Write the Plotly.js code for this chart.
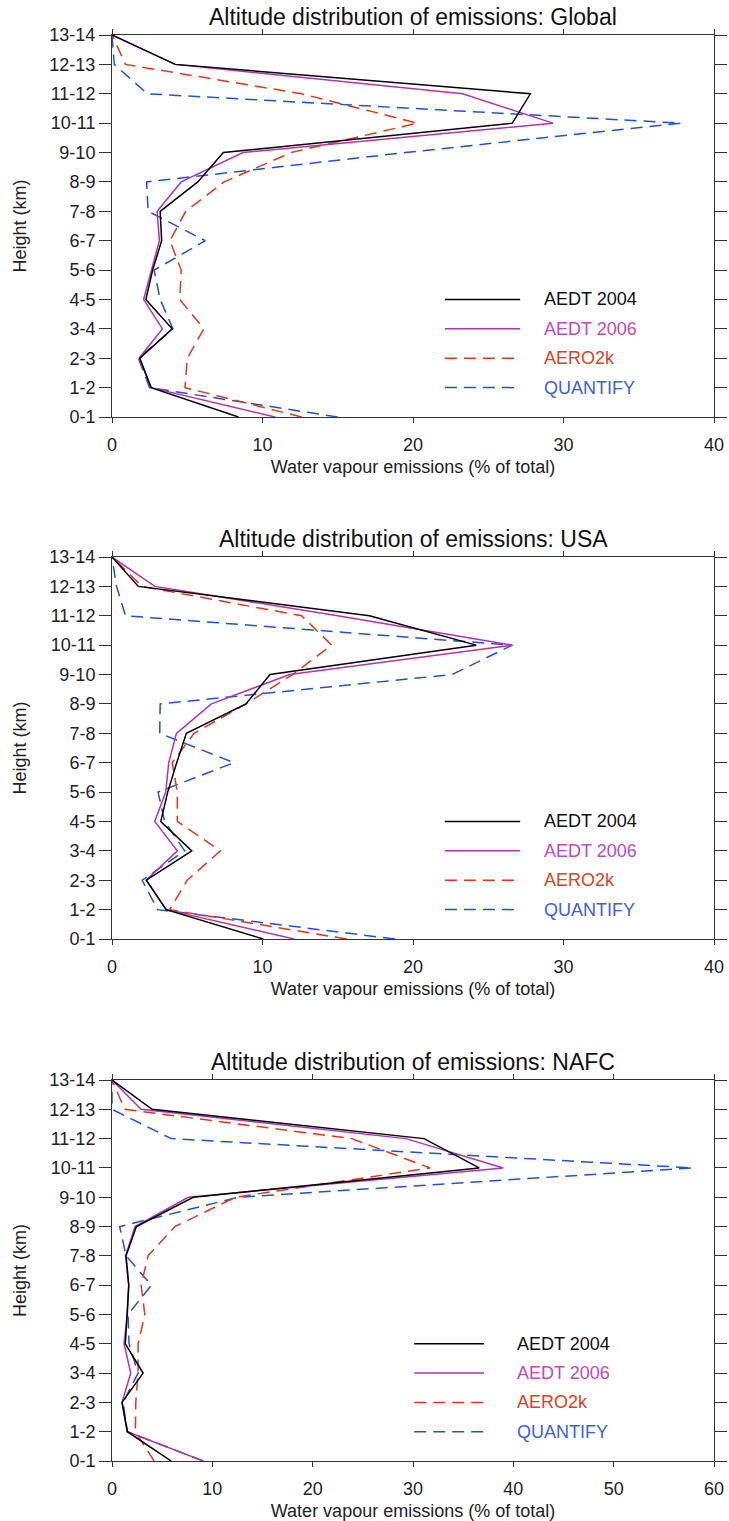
<!DOCTYPE html>
<html>
<head>
<meta charset="utf-8">
<script src="https://cdn.plot.ly/plotly-3.0.1.min.js"></script>
<style>
  html, body { margin: 0; padding: 0; background: #fff; }
  #chart { width: 729px; height: 1521px; }
</style>
</head>
<body>
<div id="chart"></div>
<script>
// Height bands (bottom to top)
const heightBands = ['0-1','1-2','2-3','3-4','4-5','5-6','6-7','7-8','8-9','9-10','10-11','11-12','12-13','13-14'];
const seriesNames = ['AEDT 2004', 'AEDT 2006', 'AERO2k', 'QUANTIFY'];
const panelTitles = ['Altitude distribution of emissions: Global', 'Altitude distribution of emissions: USA', 'Altitude distribution of emissions: NAFC'];
const xAxisTitle = 'Water vapour emissions (% of total)';
const yAxisTitle = 'Height (km)';
const xMax = [40, 40, 60];

// Global
const globalAedt2004 = [8.4, 2.6, 1.85, 4.0, 2.25, 2.7, 3.3, 3.2, 5.7, 7.4, 26.6, 27.8, 4.2, 0];
const globalAedt2006 = [10.85, 2.6, 1.8, 3.35, 2.1, 2.6, 3.15, 3.0, 4.6, 8.7, 29.3, 23.3, 4.2, 0];
const globalAero2k   = [12.6, 4.85, 5.0, 6.1, 4.5, 4.6, 3.85, 4.9, 7.45, 11.9, 20.3, 12.6, 0.9, 0];
const globalQuantify = [15.0, 2.5, 1.75, 4.05, 3.2, 2.8, 6.2, 2.4, 2.3, 19.5, 37.8, 2.35, 0.15, 0];

// USA
const usaAedt2004 = [10.05, 3.6, 2.28, 5.3, 3.24, 3.7, 4.3, 4.94, 8.9, 10.5, 24.2, 17.1, 1.75, 0];
const usaAedt2006 = [12.1, 3.6, 2.28, 4.34, 2.84, 3.57, 3.77, 4.28, 6.6, 11.8, 26.6, 15.0, 2.85, 0];
const usaAero2k   = [15.6, 3.83, 5.0, 7.2, 4.34, 4.34, 4.0, 5.45, 8.9, 12.0, 14.6, 12.6, 2.0, 0];
const usaQuantify = [18.8, 3.03, 2.0, 4.83, 3.5, 3.06, 8.1, 3.17, 3.2, 22.6, 26.6, 0.9, 0.3, 0];

// NAFC
const nafcAedt2004 = [5.9, 1.53, 1.0, 3.1, 1.33, 1.53, 1.67, 1.4, 2.43, 8.1, 36.6, 31.1, 4.0, 0];
const nafcAedt2006 = [9.1, 1.53, 1.0, 1.87, 1.2, 1.53, 1.67, 1.35, 2.3, 7.6, 39.0, 29.3, 2.9, 0];
const nafcAero2k   = [4.2, 2.33, 2.37, 2.6, 2.6, 3.27, 2.9, 3.6, 6.27, 12.3, 31.7, 23.9, 1.27, 0];
const nafcQuantify = [9.1, 1.53, 1.1, 2.6, 1.7, 1.6, 3.93, 1.4, 0.77, 12.6, 57.9, 5.9, 0, 0];

const panelData = [
  [globalAedt2004, globalAedt2006, globalAero2k, globalQuantify],
  [usaAedt2004, usaAedt2006, usaAero2k, usaQuantify],
  [nafcAedt2004, nafcAedt2006, nafcAero2k, nafcQuantify]
];

// styles
const lineColors = ['#000000', '#b033b0', '#e2361a', '#1e52d6'];
const textColors = ['#111111', '#c048bf', '#e0401f', '#3a62d8'];
const lineDash = ['solid', 'solid', '12px,7px', '12px,7px'];
const lineWidth = [1.5, 1.5, 1.5, 1.5];

const W = 729, H = 1521;
const xDom = [112 / W, 714 / W];
const yDoms = [
  [(H - 417) / H, (H - 35) / H],
  [(H - 939) / H, (H - 557) / H],
  [(H - 1461) / H, (H - 1080) / H]
];
const legendX = [[0.553, 0.678, 0.714], [0.553, 0.678, 0.714], [0.502, 0.618, 0.669]];

const font = 'Liberation Sans, Arial, Helvetica, sans-serif';
const axisColor = '#333333';
const traces = [];
const layout = {
  width: W, height: H,
  margin: {l: 0, r: 0, t: 0, b: 0},
  paper_bgcolor: '#ffffff', plot_bgcolor: '#ffffff',
  showlegend: false,
  font: {family: font, size: 18, color: '#222222'},
  shapes: [], annotations: []
};

for (let p = 0; p < 3; p++) {
  const sfx = p === 0 ? '' : String(p + 1);
  const xa = 'x' + sfx, ya = 'y' + sfx;
  // draw in reverse so AEDT 2004 ends on top
  for (let s = 3; s >= 0; s--) {
    traces.push({
      type: 'scatter', mode: 'lines',
      x: panelData[p][s], y: heightBands,
      xaxis: xa, yaxis: ya,
      name: seriesNames[s],
      line: {color: lineColors[s], width: lineWidth[s], dash: lineDash[s]},
      hoverinfo: 'skip'
    });
  }
  layout['xaxis' + sfx] = {
    domain: xDom, anchor: ya, range: [0, xMax[p]], dtick: 10, tick0: 0,
    ticks: 'outside', ticklen: 5, tickwidth: 1, tickcolor: axisColor,
    showline: true, linecolor: axisColor, linewidth: 1, mirror: 'ticks',
    showgrid: false, zeroline: false,
    tickfont: {family: font, size: 18, color: '#222'},
    ticklabelstandoff: 6,
    title: {text: xAxisTitle, font: {family: font, size: 18, color: '#222'}, standoff: 6},
    automargin: false
  };
  layout['yaxis' + sfx] = {
    domain: yDoms[p], anchor: xa, type: 'category', categoryorder: 'array', categoryarray: heightBands,
    range: [0, heightBands.length - 1],
    ticks: 'outside', ticklen: 12, tickwidth: 1, tickcolor: axisColor,
    showline: true, linecolor: axisColor, linewidth: 1, mirror: 'ticks',
    showgrid: false, zeroline: false,
    tickfont: {family: font, size: 18, color: '#222'},
    title: {text: yAxisTitle, font: {family: font, size: 18, color: '#222'}, standoff: 18},
    automargin: false
  };
  layout.annotations.push({
    text: panelTitles[p], xref: xa + ' domain', yref: ya + ' domain',
    x: 0.5, y: 1, xanchor: 'center', yanchor: 'bottom', yshift: 3, showarrow: false,
    font: {family: font, size: 23, color: '#111'}
  });
  // legend block
  for (let s = 0; s < 4; s++) {
    const yFrac = (4 - s) / (heightBands.length - 1);
    layout.shapes.push({
      type: 'line', xref: xa + ' domain', yref: ya + ' domain',
      x0: legendX[p][0], x1: legendX[p][1], y0: yFrac, y1: yFrac,
      line: {color: lineColors[s], width: lineWidth[s], dash: lineDash[s]}
    });
    layout.annotations.push({
      text: seriesNames[s], xref: xa + ' domain', yref: ya + ' domain',
      x: legendX[p][2], y: yFrac, xanchor: 'left', yanchor: 'middle', showarrow: false,
      font: {family: font, size: 18, color: textColors[s]}
    });
  }
}

Plotly.newPlot('chart', traces, layout, {staticPlot: true, displayModeBar: false});
</script>
</body>
</html>
